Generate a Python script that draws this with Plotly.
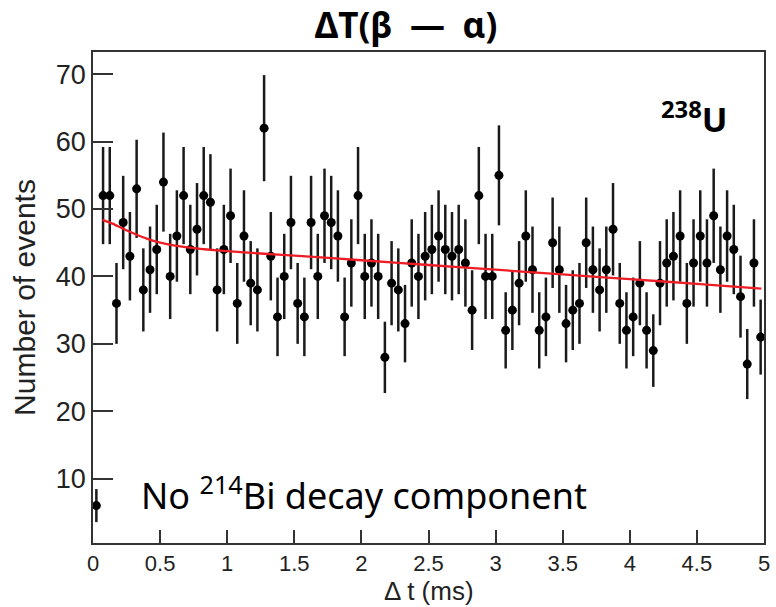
import numpy as np
import plotly.graph_objects as go

# Event counts per 0.05 ms bin (0 - 5 ms)
counts = [6, 52, 52, 36, 48, 43, 53, 38, 41, 44,
          54, 40, 46, 52, 44, 47, 52, 51, 38, 44,
          49, 36, 46, 39, 38, 62, 43, 34, 40, 48,
          36, 34, 48, 40, 49, 48, 46, 34, 42, 52,
          40, 42, 40, 28, 39, 38, 33, 42, 40, 43,
          44, 46, 44, 43, 44, 42, 35, 52, 40, 40,
          55, 32, 35, 39, 46, 41, 32, 34, 45, 41,
          33, 35, 36, 45, 41, 38, 41, 47, 36, 32,
          34, 39, 32, 29, 39, 42, 43, 46, 36, 42,
          46, 42, 49, 41, 46, 44, 37, 27, 42, 31]
bin_width = 0.05
bin_centers = np.arange(len(counts)) * bin_width + bin_width / 2
errors = np.sqrt(np.array(counts, dtype=float))

# Fit curve
fit_t = [0.072, 0.15, 0.22, 0.3, 0.4, 0.5, 0.6, 0.7, 0.85, 1.0, 1.25, 1.5,
         2.0, 2.5, 3.0, 3.5, 4.0, 4.5, 4.98]
fit_y = [48.4, 47.8, 47.1, 46.4, 45.6, 45.0, 44.6, 44.3, 44.0, 43.75, 43.4, 43.1,
         42.4, 41.7, 41.0, 40.3, 39.6, 38.9, 38.2]

x_ticks = [0, 0.5, 1, 1.5, 2, 2.5, 3, 3.5, 4, 4.5, 5]
x_ticktext = ["0", "0.5", "1", "1.5", "2", "2.5", "3", "3.5", "4", "4.5", "5"]
y_ticks = [10, 20, 30, 40, 50, 60, 70]

fig = go.Figure()
fig.add_trace(go.Scatter(
    x=bin_centers, y=counts, mode="markers",
    marker=dict(color="black", size=9),
    error_y=dict(type="data", array=errors, color="#1a1a1a", thickness=2.5, width=0),
    showlegend=False,
))
fig.add_trace(go.Scatter(
    x=fit_t, y=fit_y, mode="lines",
    line=dict(color="#ee1c25", width=2.3, shape="spline", smoothing=0.6),
    showlegend=False,
))

sans = "Liberation Sans, Arial, sans-serif"
plot_h = 543.3 - 52.7
fig.update_layout(
    width=776, height=607,
    margin=dict(l=93, r=6, t=52, b=64),
    plot_bgcolor="white", paper_bgcolor="white",
    title=dict(text="<b>ΔT(β\u2002—\u2002α)</b>", x=(409 - 93.3) / 676.7, xref="paper", xanchor="center",
               y=1 - 26 / 607, yref="container", yanchor="middle",
               font=dict(family="Noto Sans, sans-serif", size=35, color="black")),
    xaxis=dict(range=[0, 5], tickvals=x_ticks, ticktext=x_ticktext,
               ticks="inside", ticklen=13, tickwidth=1.5, tickcolor="#333",
               showline=True, linecolor="#333", linewidth=1.5, mirror=True,
               showgrid=False, zeroline=False,
               tickfont=dict(family=sans, size=22, color="#222")),
    yaxis=dict(range=[0.45, 73.3], tickvals=y_ticks,
               ticks="inside", ticklen=20, tickwidth=1.5, tickcolor="#333",
               showline=True, linecolor="#333", linewidth=1.5, mirror=True,
               showgrid=False, zeroline=False,
               tickfont=dict(family=sans, size=27, color="#222"),
               title=dict(text="Number of events", font=dict(family=sans, size=30, color="#222"), standoff=11)),
    annotations=[
        dict(text="Δ t (ms)", xref="paper", yref="paper",
             x=0.5, y=-(607 - 543.3) / plot_h, xanchor="center", yanchor="bottom",
             borderpad=0, showarrow=False, font=dict(family=sans, size=26, color="#222")),
        dict(text="<b><sup>238</sup>U</b>", xref="paper", yref="paper",
             x=(736 - 93.3) / (770 - 93.3), y=(543.3 - 118) / plot_h,
             xanchor="right", yanchor="middle", showarrow=False,
             font=dict(family="Noto Sans, sans-serif", size=34, color="black")),
        dict(text="No <sup>214</sup>Bi decay component", xref="paper", yref="paper",
             x=(140 - 93.3) / (770 - 93.3), y=(543.3 - 494) / plot_h,
             xanchor="left", yanchor="middle", showarrow=False,
             font=dict(family="Noto Sans, sans-serif", size=36, color="black")),
    ],
)

fig.write_html("out.html")
